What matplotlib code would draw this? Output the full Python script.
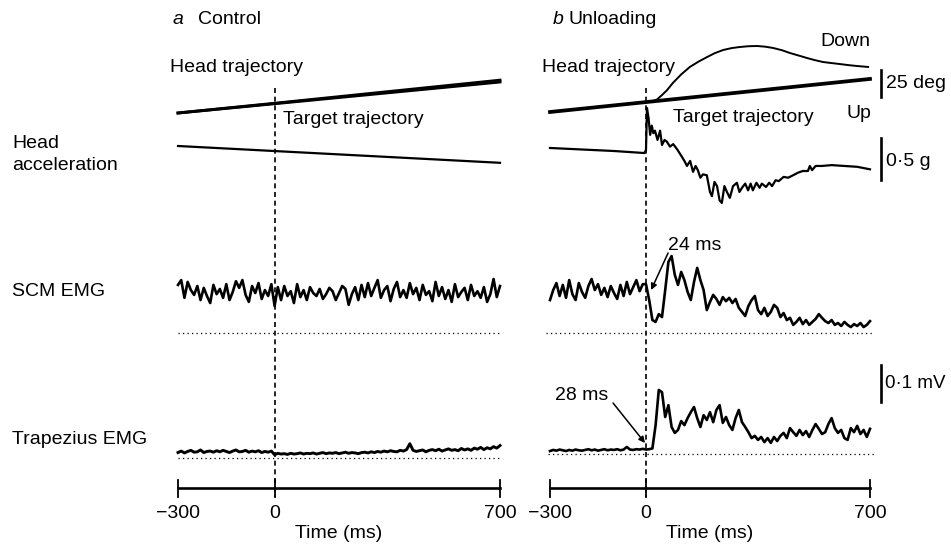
import matplotlib
matplotlib.use("Agg")
import matplotlib.pyplot as plt
import numpy as np

# ---------------------------------------------------------------- data
# EMG traces sampled every 10 ms, -300 .. 700 ms (values in microvolts)
t_emg = np.arange(-300, 701, 10)

scm_control = [
    130, 143, 95, 138, 116, 103, 127, 89, 122, 100,
    81, 130, 105, 119, 95, 132, 89, 111, 140, 122,
    143, 103, 84, 127, 108, 135, 92, 116, 100, 132,
    73, 124, 89, 127, 100, 113, 81, 132, 97, 116,
    89, 124, 108, 100, 119, 92, 105, 122, 113, 89,
    108, 127, 119, 76, 105, 124, 89, 130, 97, 135,
    100, 122, 143, 95, 116, 127, 86, 119, 138, 97,
    116, 95, 135, 105, 122, 89, 130, 103, 113, 86,
    138, 100, 124, 92, 116, 84, 132, 97, 111, 122,
    89, 130, 100, 113, 95, 124, 84, 105, 146, 97,
    127,
]
trap_control = [
    12, 16, 11, 15, 18, 13, 14, 19, 12, 15,
    16, 13, 17, 14, 18, 15, 12, 16, 19, 14,
    15, 18, 13, 16, 14, 17, 12, 15, 13, 16,
    6, 10, 8, 9, 7, 10, 8, 9, 11, 8,
    10, 9, 11, 8, 10, 12, 9, 11, 10, 12,
    9, 11, 13, 10, 12, 11, 9, 12, 13, 11,
    14, 12, 15, 13, 16, 14, 17, 15, 14, 18,
    16, 20, 36, 18, 15, 17, 19, 14, 18, 20,
    17, 21, 16, 19, 22, 18, 20, 17, 23, 19,
    22, 18, 24, 21, 26, 20, 25, 22, 28, 24,
    31,
]
scm_unload = [
    89, 116, 135, 100, 130, 95, 143, 105, 89, 135,
    111, 95, 127, 146, 116, 132, 103, 122, 97, 127,
    108, 92, 130, 100, 138, 105, 124, 143, 113, 132,
    132, 89, 35, 30, 51, 43, 116, 192, 208, 157,
    130, 165, 143, 111, 89, 138, 176, 143, 116, 62,
    84, 103, 92, 76, 97, 86, 95, 81, 92, 68,
    57, 46, 73, 89, 100, 62, 51, 68, 46, 57,
    76, 68, 43, 54, 35, 41, 22, 30, 41, 24,
    35, 22, 30, 38, 51, 41, 32, 27, 35, 22,
    27, 19, 30, 22, 16, 24, 19, 27, 16, 22,
    32,
]
trap_unload = [
    8, 11, 9, 12, 10, 8, 11, 9, 12, 10,
    9, 11, 13, 10, 12, 9, 11, 13, 10, 12,
    11, 13, 10, 12, 19, 12, 11, 13, 12, 14,
    12, 13, 15, 78, 173, 167, 100, 132, 73, 57,
    65, 89, 78, 97, 113, 127, 97, 73, 105, 92,
    113, 86, 119, 132, 84, 100, 78, 65, 97, 119,
    86, 73, 59, 43, 49, 38, 46, 32, 43, 30,
    46, 35, 49, 57, 43, 70, 59, 49, 65, 51,
    62, 46, 65, 81, 68, 54, 59, 81, 97, 70,
    57, 65, 43, 38, 70, 59, 76, 54, 65, 46,
    68,
]

# head / target position (deg, relative to start of sweep)
t_target = [-300, 700]
target_control = [0.0, 28.7]
t_head_control = [-300, 0, 700]
head_control = [0.0, 9.0, 30.4]
target_unload = [0.0, 30.6]
t_head_unload = [-300, 0, 10, 20, 34, 50, 65, 84, 110, 137, 165, 191, 215, 241,
                 268, 294, 320, 347, 372, 397, 425, 450, 478, 503, 528, 553,
                 580, 606, 633, 659, 694]
head_unload = [0.0, 9.3, 9.5, 9.9, 11.5, 15.7, 20.0, 26.9, 34.8, 41.7, 46.8,
               50.9, 54.5, 57.4, 59.2, 60.2, 60.9, 61.1, 60.5, 59.3, 57.2,
               54.6, 52.2, 50.0, 48.0, 46.3, 45.3, 44.4, 43.4, 42.6, 41.7]

# head acceleration (g)
t_acc_control = [-300, 0, 700]
acc_control = [0.0, -0.06, -0.20]
t_acc_unload = [-300, -200, -100, -5, 0, 3, 8, 13, 18, 23, 28, 36, 44, 50, 58,
                65, 75, 85, 97, 112, 120, 128, 138, 147, 155, 162, 170, 178,
                190, 200, 206, 214, 222, 230, 237, 245, 253, 262, 272, 284,
                292, 300, 310, 319, 327, 334, 345, 355, 362, 375, 385, 394,
                405, 415, 430, 444, 460, 475, 490, 506, 512, 519, 530, 550,
                580, 620, 660, 700]
acc_unload = [0.024, 0.006, -0.012, -0.036, 0.0, 0.50, 0.38, 0.18, 0.29, 0.20,
              0.23, 0.12, 0.23, 0.06, 0.12, 0.10, 0.04, 0.07, 0.01, -0.08,
              -0.13, -0.19, -0.13, -0.26, -0.19, -0.24, -0.33, -0.29, -0.30,
              -0.50, -0.55, -0.38, -0.43, -0.60, -0.63, -0.43, -0.50, -0.57,
              -0.43, -0.39, -0.50, -0.45, -0.40, -0.48, -0.40, -0.48, -0.39,
              -0.45, -0.40, -0.44, -0.39, -0.43, -0.36, -0.37, -0.32, -0.33,
              -0.30, -0.27, -0.25, -0.25, -0.19, -0.24, -0.19, -0.19, -0.18,
              -0.19, -0.20, -0.23]

time_ticks = [-300, 0, 700]
time_labels = ["\u2212300", "0", "700"]

# ---------------------------------------------------------------- layout
W, H = 951, 545
DEG_GAIN = 27 / 25      # px per deg
G_GAIN = 42 / 0.5       # px per g
UV_GAIN = 37 / 100      # px per microvolt

plt.rcParams["font.family"] = ["Liberation Sans", "DejaVu Sans"]
FS = 14
LW = 1.9

fig = plt.figure(figsize=(W / 100, H / 100), dpi=100)


def make_axes(x0, x1):
    ax = fig.add_axes([x0 / W, 0, (x1 - x0) / W, 1])
    ax.set_xlim(-300, 700)
    ax.set_ylim(H, 0)
    ax.axis("off")
    return ax


def trace(ax, t, v, base, gain, lw=LW, **kw):
    ax.plot(t, base - np.asarray(v) * gain, color="black", lw=lw,
            solid_joinstyle="round", clip_on=False, **kw)


def zero_line(ax, y, x0=-300, x1=700):
    ax.plot([x0, x1], [y, y], color="black", lw=0.9, ls=(0, (1, 2.6)),
            clip_on=False)


def time_axis(ax):
    ax.plot([-300, 700], [488, 488], color="black", lw=1.9, clip_on=False)
    for t, lab in zip(time_ticks, time_labels):
        ax.plot([t, t], [480, 497], color="black", lw=1.3, clip_on=False)
        ax.text(t, 513, lab, ha="center", va="center", fontsize=FS)
    ax.text(200, 533, "Time (ms)", ha="center", va="center", fontsize=FS)
    ax.plot([0, 0], [88, 497], color="black", lw=1.2, ls=(0, (3, 2.2)),
            clip_on=False)


def label(x, y, s, fs=FS, **kw):
    fig.text(x / W, 1 - y / H, s, ha="left", va="center", fontsize=fs, **kw)


# ---- panel a: control
ax_a = make_axes(178, 500)
trace(ax_a, t_target, target_control, 113, DEG_GAIN, lw=2.1)
trace(ax_a, t_head_control, head_control, 113, DEG_GAIN, lw=2.1)
trace(ax_a, t_acc_control, acc_control, 146, G_GAIN, lw=1.6)
trace(ax_a, t_emg, scm_control, 333, UV_GAIN)
trace(ax_a, t_emg, trap_control, 457, UV_GAIN, lw=2.1)
zero_line(ax_a, 333)
zero_line(ax_a, 458)
time_axis(ax_a)

# ---- panel b: unloading
ax_b = make_axes(550, 870)
trace(ax_b, t_target, target_unload, 112, DEG_GAIN, lw=2.7)
trace(ax_b, t_head_unload, head_unload, 112, DEG_GAIN, lw=1.4)
trace(ax_b, t_acc_unload, acc_unload, 150, G_GAIN, lw=1.6)
trace(ax_b, t_emg, scm_unload, 333, UV_GAIN)
trace(ax_b, t_emg, trap_unload, 454, UV_GAIN)
zero_line(ax_b, 333, -312, 706)
zero_line(ax_b, 454, -306, 715)
time_axis(ax_b)

# scale bars
for top, size, gain in [(70, 25, DEG_GAIN), (138, 0.5, G_GAIN), (365, 100, UV_GAIN)]:
    ax_b.plot([734, 734], [top, top + size * gain], color="black", lw=1.9,
              clip_on=False)

# latency arrows
arrow = dict(arrowstyle="-|>", color="black", lw=1.1, mutation_scale=9,
             shrinkA=0, shrinkB=0)
ax_b.annotate("", xy=(16, 290), xytext=(69, 253), arrowprops=arrow,
              annotation_clip=False)
ax_b.annotate("", xy=(-3, 443), xytext=(-103, 403), arrowprops=arrow,
              annotation_clip=False)

# ---- text
label(173, 19, "a", style="italic")
label(198, 19, "Control")
label(553, 19, "b", style="italic")
label(568, 19, "Unloading")
label(170, 68, "Head trajectory")
label(283, 120, "Target trajectory")
label(12, 143, "Head")
label(12, 166, "acceleration")
label(12, 292, "SCM EMG")
label(12, 440, "Trapezius EMG")
label(542, 68, "Head trajectory")
label(673, 117, "Target trajectory")
label(820, 42, "Down")
label(847, 113, "Up")
label(886, 84, "25 deg")
label(886, 161, "0\u00b75 g")
label(885, 384, "0\u00b71 mV", fs=13.5)
label(668, 245, "24 ms")
label(555, 395, "28 ms")

fig.savefig("out.png", dpi=100)
